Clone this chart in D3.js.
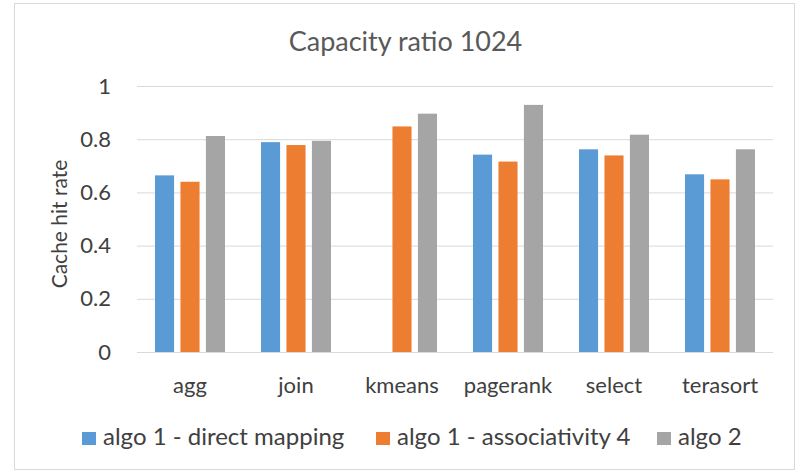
<!DOCTYPE html>
<html>
<head>
<meta charset="utf-8">
<script src="https://cdn.jsdelivr.net/npm/d3@7"></script>
<style>
  html, body { margin: 0; padding: 0; background: #fff; }
  svg { display: block; font-family: Lato, "Open Sans", sans-serif; }
</style>
</head>
<body>
<svg id="chart" width="796" height="471"></svg>
<script>
// Workloads on the x axis
const categories = ["agg", "join", "kmeans", "pagerank", "select", "terasort"];
// Series names, in legend order
const seriesNames = ["algo 1 - direct mapping", "algo 1 - associativity 4", "algo 2"];
// Cache hit rate per workload for each series (null = no bar)
const directMapping = [0.664, 0.789, null, 0.742, 0.762, 0.668];
const associativity4 = [0.640, 0.778, 0.848, 0.716, 0.739, 0.649];
const algo2 = [0.812, 0.794, 0.896, 0.929, 0.817, 0.762];
// Y axis ticks
const yTicks = [0, 0.2, 0.4, 0.6, 0.8, 1];

const seriesValues = [directMapping, associativity4, algo2];
const colors = ["#5B9BD5", "#ED7D31", "#A5A5A5"];

const svg = d3.select("#chart");

// chart frame
svg.append("rect")
  .attr("x", 14.5).attr("y", 3.5)
  .attr("width", 780).attr("height", 466)
  .attr("fill", "#fff").attr("stroke", "#D9D9D9").attr("stroke-width", 1);

const plot = { left: 137, right: 773, top: 86, bottom: 352 };

const x = d3.scaleBand().domain(categories).range([plot.left, plot.right]).paddingInner(0).paddingOuter(0);
const xSeries = d3.scaleBand().domain(d3.range(seriesValues.length))
  .range([x.bandwidth() / 2 - 35, x.bandwidth() / 2 + 35]).paddingInner(0.25);
const y = d3.scaleLinear().domain([0, 1]).range([plot.bottom, plot.top]);

// gridlines
svg.append("g")
  .attr("transform", `translate(${plot.left},0)`)
  .call(d3.axisLeft(y).tickValues(yTicks).tickSize(-(plot.right - plot.left)).tickFormat(""))
  .call(g => g.select(".domain").remove())
  .call(g => g.selectAll("line").attr("stroke", "#D9D9D9").attr("stroke-width", 1));

// y tick labels
svg.append("g")
  .attr("transform", `translate(111,0)`)
  .call(d3.axisLeft(y).tickValues(yTicks).tickSize(0).tickPadding(0).tickFormat(d3.format("~g")))
  .call(g => g.select(".domain").remove())
  .call(g => g.selectAll("text")
    .attr("font-size", 22).attr("fill", "#404040").attr("font-family", "Lato, sans-serif"));

// bars
const groups = svg.append("g").selectAll("g")
  .data(categories)
  .join("g")
  .attr("transform", d => `translate(${x(d)},0)`);

groups.selectAll("rect")
  .data((c, i) => seriesValues.map((s, k) => ({ k, v: s[i] })).filter(d => d.v != null))
  .join("rect")
  .attr("x", d => xSeries(d.k))
  .attr("width", xSeries.bandwidth())
  .attr("y", d => y(d.v))
  .attr("height", d => y(0) - y(d.v))
  .attr("fill", d => colors[d.k]);

// category labels
svg.append("g")
  .attr("transform", `translate(0,${plot.bottom})`)
  .call(d3.axisBottom(x).tickSize(0).tickPadding(25))
  .call(g => g.select(".domain").remove())
  .call(g => g.selectAll("text")
    .attr("font-size", 22).attr("fill", "#404040").attr("font-family", "Lato, sans-serif"));

// title
svg.append("text")
  .attr("x", 405.5).attr("y", 51)
  .attr("text-anchor", "middle")
  .attr("font-size", 27).attr("fill", "#595959")
  .text("Capacity ratio 1024");

// y axis title
svg.append("text")
  .attr("transform", `translate(67,224) rotate(-90)`)
  .attr("text-anchor", "middle")
  .attr("font-size", 21).attr("fill", "#404040")
  .text("Cache hit rate");

// legend
const legendX = [82, 376, 657];
const legend = svg.append("g").selectAll("g")
  .data(seriesNames)
  .join("g")
  .attr("transform", (d, i) => `translate(${legendX[i]},432)`);
legend.append("rect")
  .attr("x", 0).attr("y", 0).attr("width", 14).attr("height", 13)
  .attr("fill", (d, i) => colors[i]);
legend.append("text")
  .attr("x", 21).attr("y", 13)
  .attr("font-size", 24).attr("fill", "#404040")
  .text(d => d);
</script>
</body>
</html>
